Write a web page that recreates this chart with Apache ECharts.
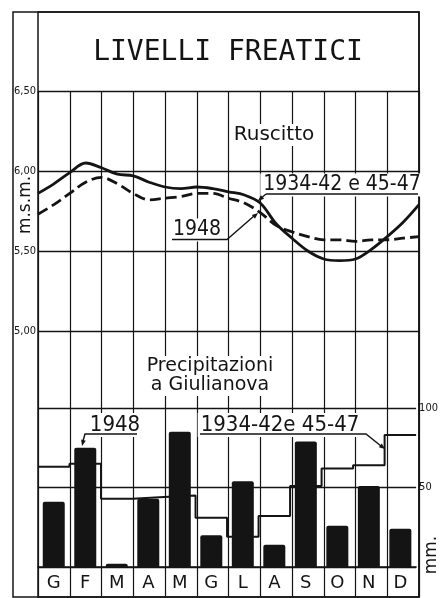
<!DOCTYPE html>
<html>
<head>
<meta charset="utf-8">
<title>Livelli freatici</title>
<script src="https://cdn.jsdelivr.net/npm/echarts@6/dist/echarts.min.js"></script>
<style>
  html, body { margin: 0; padding: 0; background: #fff; }
  #chart { width: 441px; height: 598px; }
</style>
</head>
<body>
<div id="chart"></div>
<script>
// iniziali dei mesi
var months = ['G', 'F', 'M', 'A', 'M', 'G', 'L', 'A', 'S', 'O', 'N', 'D'];

// livello freatico a Ruscitto (m s.m.), letto ogni mezzo mese (0 = inizio gennaio, 12 = fine dicembre)
var levelPos = [0, 0.5, 1, 1.5, 2, 2.5, 3, 3.5, 4, 4.5, 5, 5.5, 6, 6.5, 7, 7.5, 8, 8.5, 9, 9.5, 10, 10.5, 11, 11.5, 12];
var levelMean = [5.86, 5.92, 5.99, 6.05, 6.02, 5.98, 5.97, 5.93, 5.90, 5.89, 5.90, 5.89, 5.87, 5.85, 5.80, 5.67, 5.58, 5.50, 5.45, 5.44, 5.45, 5.51, 5.59, 5.68, 5.79];
var level1948 = [5.73, 5.79, 5.86, 5.93, 5.96, 5.92, 5.86, 5.82, 5.83, 5.84, 5.86, 5.86, 5.83, 5.80, 5.74, 5.66, 5.62, 5.59, 5.57, 5.57, 5.56, 5.57, 5.57, 5.58, 5.59];
var levelTicks = [5.00, 5.50, 6.00, 6.50];

// precipitazioni a Giulianova (mm)
var rain1948 = [41, 75, 2, 43, 85, 20, 54, 14, 79, 26, 51, 24];
var rainMean = [63, 65, 43, 44, 45, 31, 19, 32, 51, 62, 64, 83];
var rainTicks = [0, 50, 100];

var ink = '#141414';
var sans = '"DejaVu Sans", sans-serif';
var cond = '"DejaVu Sans Condensed", "Liberation Sans Narrow", "DejaVu Sans", sans-serif';

var chart = echarts.init(document.getElementById('chart'));

function hiddenAxis(g) {
    return { type: 'value', gridIndex: g, show: false };
}

function label(text, x, y, size, family) {
    return {
        type: 'text', x: x, y: y, z: 100,
        style: {
            text: text, fontSize: size, fontFamily: family, fill: ink,
            align: 'center', verticalAlign: 'middle',
            backgroundColor: '#fff', padding: [1, 3]
        }
    };
}

function leader(points) {
    return {
        type: 'polyline', z: 101,
        shape: { points: points },
        style: { stroke: ink, lineWidth: 1.4, fill: null }
    };
}

// punta di freccia piena alla fine di un tratto
function arrow(from, to) {
    var dx = to[0] - from[0], dy = to[1] - from[1];
    var len = Math.sqrt(dx * dx + dy * dy);
    var ux = dx / len, uy = dy / len;
    var bx = to[0] - ux * 6, by = to[1] - uy * 6;
    return {
        type: 'polygon', z: 101,
        shape: { points: [to, [bx - uy * 2.4, by + ux * 2.4], [bx + uy * 2.4, by - ux * 2.4]] },
        style: { fill: ink }
    };
}

function rotated(text, x, y, size) {
    return {
        type: 'text', x: x, y: y, z: 100, rotation: Math.PI / 2,
        style: { text: text, fontSize: size, fontFamily: sans, fill: ink, align: 'center', verticalAlign: 'middle' }
    };
}

var option = {
    animation: false,
    backgroundColor: '#fff',
    grid: [
        { left: 13, top: 12, right: 22, bottom: 1, show: true, borderColor: ink, borderWidth: 1.5 },
        { left: 38, top: 12, right: 22, bottom: 1, show: true, borderColor: ink, borderWidth: 1.5 },
        { left: 38, top: 91, right: 22, height: 240 },
        { left: 38, top: 408, right: 22, bottom: 31 },
        { left: 38, top: 91, right: 22, bottom: 1 }
    ],
    xAxis: [
        hiddenAxis(0),
        hiddenAxis(1),
        { type: 'value', gridIndex: 2, min: 0, max: 12, show: false },
        {
            type: 'category', gridIndex: 3, data: months,
            axisLine: { lineStyle: { color: ink, width: 1.6 } },
            axisTick: { show: false },
            axisLabel: { interval: 0, color: ink, fontSize: 18, fontFamily: sans, margin: 7 }
        },
        { type: 'value', gridIndex: 3, min: 0, max: 12, show: false },
        {
            type: 'category', gridIndex: 4, data: months,
            axisLine: { show: false }, axisTick: { show: false }, axisLabel: { show: false },
            splitLine: { show: true, interval: 0, lineStyle: { color: ink, width: 1.2 } }
        }
    ],
    yAxis: [
        hiddenAxis(0),
        hiddenAxis(1),
        {
            type: 'value', gridIndex: 2,
            min: levelTicks[0], max: levelTicks[levelTicks.length - 1], interval: 0.5,
            axisLine: { show: false }, axisTick: { show: false },
            axisLabel: {
                color: ink, fontSize: 11, fontFamily: cond, align: 'left', margin: 24,
                formatter: function (v) { return v.toFixed(2).replace('.', ','); }
            },
            splitLine: { lineStyle: { color: ink, width: 1.4 } }
        },
        {
            type: 'value', gridIndex: 3, position: 'right',
            min: rainTicks[0], max: rainTicks[rainTicks.length - 1], interval: 50,
            axisLine: { show: false }, axisTick: { show: false },
            axisLabel: {
                color: ink, fontSize: 11, fontFamily: cond, margin: 3,
                formatter: function (v) { return v === 0 ? '' : String(v); }
            },
            splitLine: { lineStyle: { color: ink, width: 1.4 } }
        },
        hiddenAxis(4)
    ],
    series: [
        {
            name: '1934-42 e 45-47', type: 'line', xAxisIndex: 2, yAxisIndex: 2,
            data: levelPos.map(function (x, i) { return [x, levelMean[i]]; }),
            smooth: 0.35, symbol: 'none',
            lineStyle: { color: ink, width: 2.8 }
        },
        {
            name: '1948', type: 'line', xAxisIndex: 2, yAxisIndex: 2,
            data: levelPos.map(function (x, i) { return [x, level1948[i]]; }),
            smooth: 0.35, symbol: 'none',
            lineStyle: { color: ink, width: 2.8, type: [11, 5] }
        },
        {
            name: 'Precipitazioni 1948', type: 'bar', xAxisIndex: 3, yAxisIndex: 3,
            data: rain1948, barWidth: 22,
            itemStyle: { color: ink, borderRadius: [2, 2, 0, 0] }
        },
        {
            name: 'Precipitazioni 1934-42 e 45-47', type: 'line', xAxisIndex: 4, yAxisIndex: 3,
            data: rainMean.map(function (v, i) { return [i, v]; }).concat([[12, rainMean[11]]]),
            step: 'end', symbol: 'none',
            lineStyle: { color: ink, width: 2 }
        }
    ],
    graphic: [
        {
            type: 'text', x: 228, y: 53, z: 100,
            style: { text: 'LIVELLI FREATICI', fontSize: 28, fontFamily: '"DejaVu Sans Mono", monospace', fill: ink, align: 'center', verticalAlign: 'middle' }
        },
        label('Ruscitto', 274, 135, 20, sans),
        label('Precipitazioni\na Giulianova', 210, 376, 19, sans),
        rotated('m.s.m.', 26, 205, 17),
        rotated('mm.', 432, 555, 17),

        label('1934-42 e 45-47', 342, 185, 21, cond),
        leader([[266, 194], [418, 194]]),
        leader([[266, 194], [259, 200]]),
        arrow([266, 194], [258, 201]),

        label('1948', 197, 230, 21, cond),
        leader([[172, 239.5], [227, 239.5], [254, 216]]),
        arrow([227, 239.5], [258, 213]),

        label('1948', 115, 425, 22, cond),
        leader([[137, 434], [85, 434], [83, 441]]),
        arrow([85, 434], [82, 446]),

        label('1934-42e 45-47', 280, 425, 22, cond),
        leader([[200, 434], [366, 434], [381, 446]]),
        arrow([366, 434], [385, 449])
    ]
};

chart.setOption(option);
</script>
</body>
</html>
